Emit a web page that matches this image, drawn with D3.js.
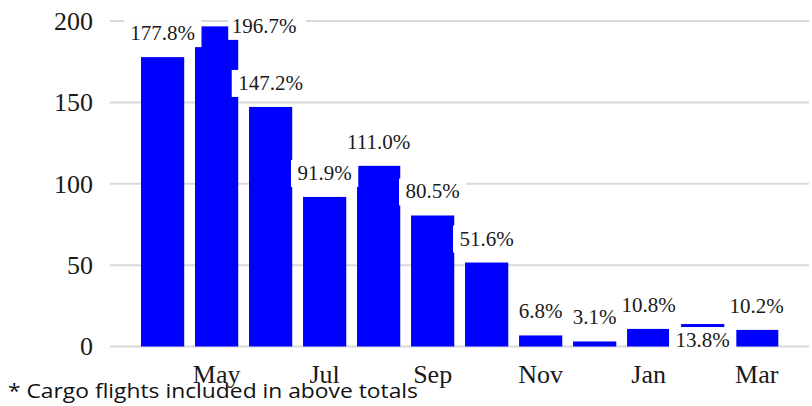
<!DOCTYPE html>
<html>
<head>
<meta charset="utf-8">
<script src="https://cdn.jsdelivr.net/npm/d3@7"></script>
<style>
  html, body { margin: 0; padding: 0; background: #fff; }
  svg { display: block; }
</style>
</head>
<body>
<svg id="chart" width="812" height="406"></svg>
<script>
// ---- data ----
const months = ["Apr", "May", "Jun", "Jul", "Aug", "Sep", "Oct", "Nov", "Dec", "Jan", "Feb", "Mar"];
const values = [177.8, 196.7, 147.2, 91.9, 111.0, 80.5, 51.6, 6.8, 3.1, 10.8, 13.8, 10.2];
const valueLabels = ["177.8%", "196.7%", "147.2%", "91.9%", "111.0%", "80.5%", "51.6%", "6.8%", "3.1%", "10.8%", "13.8%", "10.2%"];
const xTickLabels = ["May", "Jul", "Sep", "Nov", "Jan", "Mar"];
const yTicks = [0, 50, 100, 150, 200];
const footnote = "* Cargo flights included in above totals";

// ---- layout ----
const W = 812, H = 406;
const svg = d3.select("#chart");
const serif = "'Liberation Serif', 'Times New Roman', serif";

const x = d3.scaleBand().domain(months).range([135.6, 783.7]).paddingInner(0.2).paddingOuter(0.1);
const y = d3.scaleLinear().domain([0, 200]).range([346.5, 21]);
const gridX0 = 110, gridX1 = 809;

// gridlines
svg.append("g").selectAll("line").data(yTicks).join("line")
  .attr("x1", gridX0).attr("x2", gridX1)
  .attr("y1", d => y(d)).attr("y2", d => y(d))
  .attr("stroke", "#d9d9d9").attr("stroke-width", 2);

// y tick labels
svg.append("g").selectAll("text").data(yTicks).join("text")
  .attr("x", 93).attr("y", d => y(d)).attr("dy", "0.34em")
  .attr("text-anchor", "end")
  .style("font-family", serif).style("font-size", "26px").attr("fill", "#1a1a1a")
  .text(d => d);

// bars
svg.append("g").selectAll("rect").data(values).join("rect")
  .attr("x", (d, i) => x(months[i]))
  .attr("width", x.bandwidth())
  .attr("y", d => y(d))
  .attr("height", d => y(0) - y(d))
  .attr("fill", "#0000ff");

// value labels with white boxes and simple collision-avoiding placement
const lblG = svg.append("g");
const boxH = 27, pad = 6.5, baseOff = 20;
const placed = [];
function overlaps(a, b, m) {
  return a.x + m < b.x + b.w - m && b.x + m < a.x + a.w - m &&
         a.y + m < b.y + b.h - m && b.y + m < a.y + a.h - m;
}
values.forEach((v, i) => {
  const t = lblG.append("text")
    .style("font-family", serif).style("font-size", "21px").attr("fill", "#1a1a1a")
    .text(valueLabels[i]);
  const w = t.node().getComputedTextLength();
  const bx = x(months[i]), bw = x.bandwidth(), cx = bx + bw / 2, top = y(v);
  const cands = [
    { x: cx - w / 2 - pad, y: top - 10 - boxH, w: w + 2 * pad, h: boxH, tx: cx - w / 2 },
    { x: cx - w / 2 - pad, y: top + 3, w: w + 2 * pad, h: boxH, tx: cx - w / 2 },
    { x: bx + bw - 10, y: top - boxH / 2, w: w + 2 * pad, h: boxH, tx: bx + bw - 6.5 }
  ];
  let c = cands.find(b => b.y >= 0 && b.y + b.h <= H && !placed.some(p => overlaps(b, p, 5.5)));
  if (!c) c = cands[0];
  placed.push(c);
  lblG.insert("rect", "text").attr("x", c.x).attr("y", c.y).attr("width", c.w).attr("height", c.h).attr("fill", "#fff");
  t.attr("x", c.tx).attr("y", c.y + baseOff);
});
// move all texts above all rects
lblG.selectAll("text").raise();

// x tick labels
svg.append("g").selectAll("text").data(xTickLabels).join("text")
  .attr("x", d => x(d) + x.bandwidth() / 2).attr("y", 383)
  .attr("text-anchor", "middle")
  .style("font-family", serif).style("font-size", "26px").attr("fill", "#1a1a1a")
  .text(d => d);

// footnote
svg.append("text").attr("x", 8).attr("y", 398)
  .style("font-family", "'Open Sans', 'Noto Sans', sans-serif").style("font-size", "20px")
  .attr("fill", "#111")
  .attr("textLength", 410).attr("lengthAdjust", "spacingAndGlyphs")
  .text(footnote);
</script>
</body>
</html>
